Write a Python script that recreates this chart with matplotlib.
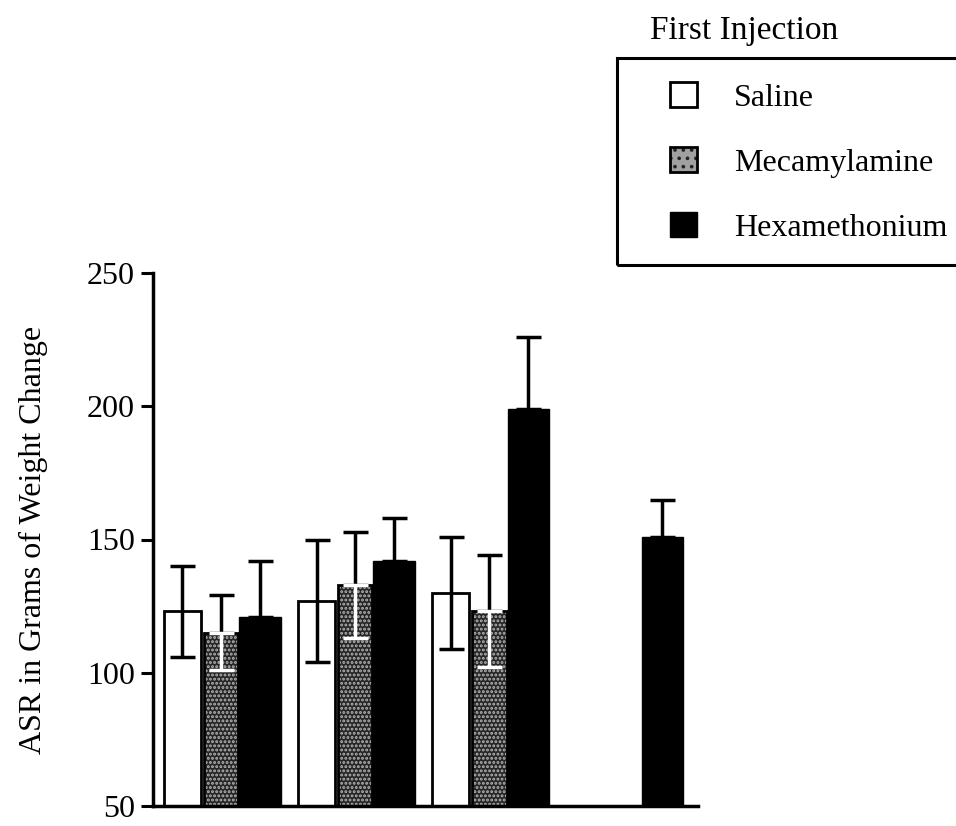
import numpy as np
import matplotlib
matplotlib.use('Agg')
import matplotlib.pyplot as plt
from matplotlib.patches import Patch, Rectangle

# values
groups = ['1', '2', '3', '4']
saline = [123, 127, 130, np.nan]
saline_err = [17, 23, 21, np.nan]
meca = [115, 133, 123, np.nan]
meca_err = [14, 20, 21, np.nan]
hexa = [121, 142, 199, 151]
hexa_err = [21, 16, 27, 14]
yticks = [50, 100, 150, 200, 250]

plt.rcParams['font.family'] = ['Liberation Serif', 'DejaVu Serif']
plt.rcParams['hatch.linewidth'] = 1.4

fig = plt.figure(figsize=(9.56, 8.26), dpi=100)
# left spine at x=153 px, x axis near the bottom edge, 250 tick at y~273 px
ax = fig.add_axes([153 / 956, 20 / 826, 545 / 956, 533 / 826])

x = np.arange(len(groups))
off = 0.29
cap = 9
lw = 2.5

# saline: white bars, errors both directions
ax.bar(x - off, saline, width=0.27, color='white', edgecolor='black', linewidth=2, zorder=2)
ax.errorbar(x - off, saline, yerr=saline_err, fmt='none', ecolor='black', elinewidth=lw,
            capsize=cap, capthick=lw, zorder=3)

# mecamylamine: stippled dark grey
ax.bar(x, meca, width=0.255, color='#262626', edgecolor='#b5b5b5', hatch='....', linewidth=0, zorder=2)
ax.bar(x, meca, width=0.255, fill=False, edgecolor='black', linewidth=2, zorder=2)
m = np.array(meca)
me = np.array(meca_err)
ax.errorbar(x, m, yerr=[np.zeros_like(me), me], fmt='none', ecolor='black', elinewidth=lw,
            capsize=cap, capthick=lw, zorder=3)
ax.errorbar(x, m, yerr=[me, np.zeros_like(me)], fmt='none', ecolor='white', elinewidth=lw,
            capsize=cap, capthick=lw, zorder=3)

# hexamethonium: black bars
h = np.array(hexa)
he = np.array(hexa_err)
ax.bar(x + off, hexa, width=0.31, color='black', edgecolor='black', linewidth=1, zorder=2)
ax.errorbar(x + off, h, yerr=[np.zeros_like(he), he], fmt='none', ecolor='black', elinewidth=lw,
            capsize=cap, capthick=lw, zorder=3)

ax.set_xlim(-0.51, 3.556)
ax.set_ylim(50, 250)
ax.set_yticks(yticks)
ax.set_xticks([])
ax.tick_params(axis='y', direction='out', length=9, width=2.2, labelsize=23, pad=4)
for s in ['top', 'right']:
    ax.spines[s].set_visible(False)
for s in ['left', 'bottom']:
    ax.spines[s].set_linewidth(2.5)
ax.set_ylabel('ASR in Grams of Weight Change', fontsize=23, labelpad=28)

# legend: frame drawn by hand so it runs off the right edge, title outside
fig.patches.append(Rectangle((617 / 956, 1 - 265 / 826), 0.40, 207 / 826,
                             transform=fig.transFigure, fill=False,
                             edgecolor='black', linewidth=2.2))
handles = [
    Patch(facecolor='white', edgecolor='black', linewidth=2),
    (Patch(facecolor='#a0a0a0', edgecolor='#222222', hatch='..', linewidth=0),
     Patch(fill=False, edgecolor='black', linewidth=2)),
    Patch(facecolor='black', edgecolor='black'),
]
fig.legend(handles, ['Saline', 'Mecamylamine', 'Hexamethonium'],
           loc='upper left', bbox_to_anchor=(670 / 956, 1 - 82 / 826), fontsize=23,
           frameon=False, borderpad=0, borderaxespad=0,
           handlelength=0.85, handleheight=0.85, handletextpad=1.15,
           labelspacing=1.07)
fig.text(650 / 956, 1 - 31 / 826, 'First Injection', fontsize=24, va='center', ha='left')

fig.savefig('out.png', dpi=100)
